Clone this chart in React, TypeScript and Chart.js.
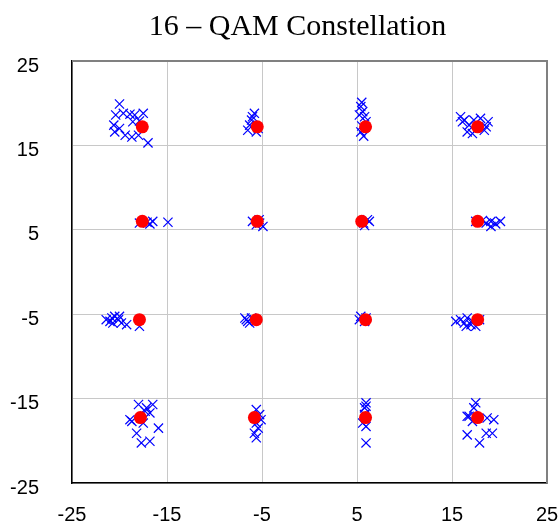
import React, { useEffect, useRef } from "react";
import { Chart, registerables } from "chart.js";

Chart.register(...registerables);

const chartTitle = "16 – QAM Constellation";
const axisTicks = [-25, -15, -5, 5, 15, 25];

// Ideal constellation symbols (red dots)
const symbolI = [-17.6, -5.5, 5.9, 17.7, -17.6, -5.5, 5.5, 17.7, -17.9, -5.6, 5.9, 17.7, -17.8, -5.8, 5.9, 17.7];
const symbolQ = [17.2, 17.2, 17.2, 17.2, 6.0, 6.0, 6.0, 6.0, -5.65, -5.65, -5.65, -5.65, -17.25, -17.25, -17.25, -17.25];

// Received noisy samples (blue crosses)
const noisyI = [
  // top row
  -20.0, -20.4, -19.6, -18.9, -18.4, -17.5, -18.6, -20.6, -20.5, -19.4, -18.7, -18.0, -17.0, -20.0, -17.9,
  -5.8, -6.0, -6.1, -6.5, -5.6, -6.3, -5.4,
  5.5, 5.4, 5.6, 5.25, 5.8, 5.4, 5.7, 5.95, 5.5,
  15.9, 16.3, 16.8, 17.3, 18.0, 18.6, 16.6, 17.15, 18.4, 16.1, 18.8,
  // second row
  -17.9, -17.1, -16.5, -14.9, -16.8,
  -6.0, -5.25, -4.9, -5.6, -5.3,
  6.3, 5.7, 6.1, 5.8,
  17.5, 18.6, 19.1, 19.6, 20.1, 19.1, 18.2,
  // third row
  -21.4, -20.8, -20.5, -20.1, -19.8, -20.7, -21.0, -20.0, -19.25, -17.9,
  -6.65, -6.3, -6.8, -6.1, -6.5,
  5.4, 5.8, 5.25, 5.95,
  15.4, 15.9, 16.3, 16.6, 17.0, 17.15, 17.5, 17.9, 16.5,
  // bottom row
  -18.0, -17.15, -16.5, -16.8, -18.7, -17.5, -18.2, -17.7, -16.8, -15.9, -18.9, -17.3,
  -5.6, -5.25, -5.6, -5.4, -5.8, -5.6, -5.1,
  5.95, 5.8, 5.95, 5.8, 5.6, 5.95, 5.95,
  17.5, 17.3, 16.6, 17.15, 18.7, 19.4, 18.6, 19.25, 16.6, 17.9, 16.8,
];
const noisyQ = [
  // top row
  19.9, 18.6, 18.8, 18.7, 18.6, 18.8, 17.8, 17.4, 16.6, 16.2, 16.0, 16.2, 15.3, 17.0, 17.9,
  18.8, 18.4, 18.0, 16.8, 16.6, 17.4, 17.0,
  20.1, 19.6, 19.0, 18.6, 18.4, 16.6, 16.1, 17.8, 17.3,
  18.4, 18.0, 17.4, 18.0, 18.2, 17.2, 16.6, 16.4, 16.8, 17.8, 17.8,
  // second row
  5.8, 5.9, 6.0, 5.9, 5.7,
  6.0, 5.8, 5.4, 5.6, 6.2,
  6.0, 5.8, 6.2, 5.5,
  6.0, 5.8, 6.0, 5.7, 6.0, 5.4, 6.1,
  // third row
  -5.65, -5.45, -5.26, -5.65, -6.04, -6.04, -5.85, -5.26, -6.24, -6.44,
  -5.65, -6.04, -5.45, -5.45, -5.85,
  -5.26, -5.85, -5.65, -5.45,
  -5.85, -5.65, -6.04, -5.45, -6.24, -5.85, -6.44, -5.65, -6.44,
  // bottom row
  -15.7, -16.1, -15.7, -16.7, -17.7, -17.9, -19.1, -20.25, -20.05, -18.5, -17.5, -16.5,
  -16.3, -16.9, -17.9, -18.5, -19.1, -19.65, -17.5,
  -15.5, -16.1, -15.9, -16.9, -17.9, -18.3, -20.25,
  -15.5, -16.1, -17.1, -17.7, -17.3, -17.5, -19.1, -19.1, -19.3, -20.25, -17.1,
];

const frameBorders = {
  id: "frameBorders",
  afterDatasetsDraw(chart: any) {
    const { ctx, chartArea } = chart;
    ctx.save();
    ctx.strokeStyle = "#808080";
    ctx.lineWidth = 2;
    ctx.beginPath();
    ctx.moveTo(chartArea.left, chartArea.top);
    ctx.lineTo(chartArea.right, chartArea.top);
    ctx.lineTo(chartArea.right, chartArea.bottom);
    ctx.stroke();
    ctx.restore();
  },
};

const titlePlugin = {
  id: "titleText",
  afterDraw(chart: any) {
    const { ctx } = chart;
    ctx.save();
    ctx.fillStyle = "#000";
    ctx.font = "30px 'Liberation Serif', 'Times New Roman', serif";
    ctx.textAlign = "center";
    ctx.textBaseline = "alphabetic";
    ctx.fillText(chartTitle, 297.5, 35);
    ctx.restore();
  },
};

export default function App() {
  const canvasRef = useRef<HTMLCanvasElement | null>(null);

  useEffect(() => {
    if (!canvasRef.current) return;
    const symbols = symbolI.map((x, i) => ({ x, y: symbolQ[i] }));
    const samples = noisyI.map((x, i) => ({ x, y: noisyQ[i] }));
    const tickFont = { family: "'Liberation Sans', Arial, sans-serif", size: 20 };
    const chart = new Chart(canvasRef.current, {
      type: "scatter",
      data: {
        datasets: [
          {
            label: "Symbols",
            data: symbols,
            order: 0,
            pointStyle: "circle",
            pointRadius: 6.5,
            backgroundColor: "#ff0000",
            borderColor: "#ff0000",
            borderWidth: 0,
          },
          {
            label: "Received",
            data: samples,
            order: 1,
            pointStyle: "crossRot",
            pointRadius: 6.5,
            borderColor: "#0000ff",
            backgroundColor: "#0000ff",
            borderWidth: 1.2,
          },
        ],
      },
      options: {
        animation: false,
        responsive: false,
        devicePixelRatio: 1,
        layout: { padding: { left: 0, right: 13, top: 61, bottom: 0 } },
        plugins: {
          legend: { display: false },
          tooltip: { enabled: false },
          title: { display: false },
        },
        scales: {
          x: {
            type: "linear",
            min: -25,
            max: 25,
            afterBuildTicks: (scale: any) => {
              scale.ticks = axisTicks.map((v) => ({ value: v }));
            },
            afterFit: (scale: any) => {
              scale.height = 41;
            },
            ticks: { color: "#000", font: tickFont, padding: 0, maxRotation: 0, autoSkip: false },
            grid: { color: "#c8c8c8", lineWidth: 1, drawTicks: true, tickLength: 20, tickColor: "rgba(0,0,0,0)" },
            border: { display: true, color: "#000", width: 1.5 },
          },
          y: {
            type: "linear",
            min: -25,
            max: 25,
            afterBuildTicks: (scale: any) => {
              scale.ticks = axisTicks.map((v) => ({ value: v }));
            },
            afterFit: (scale: any) => {
              scale.width = 72;
            },
            ticks: { color: "#000", font: tickFont, padding: 0, labelOffset: 5, autoSkip: false },
            grid: { color: "#c8c8c8", lineWidth: 1, drawTicks: true, tickLength: 33, tickColor: "rgba(0,0,0,0)" },
            border: { display: true, color: "#000", width: 1.5 },
          },
        },
      },
      plugins: [frameBorders, titlePlugin],
    });
    return () => chart.destroy();
  }, []);

  return (
    <div style={{ position: "absolute", left: 0, top: 0, width: 560, height: 524, background: "#fff" }}>
      <canvas ref={canvasRef} width={560} height={524} style={{ display: "block" }} />
    </div>
  );
}
